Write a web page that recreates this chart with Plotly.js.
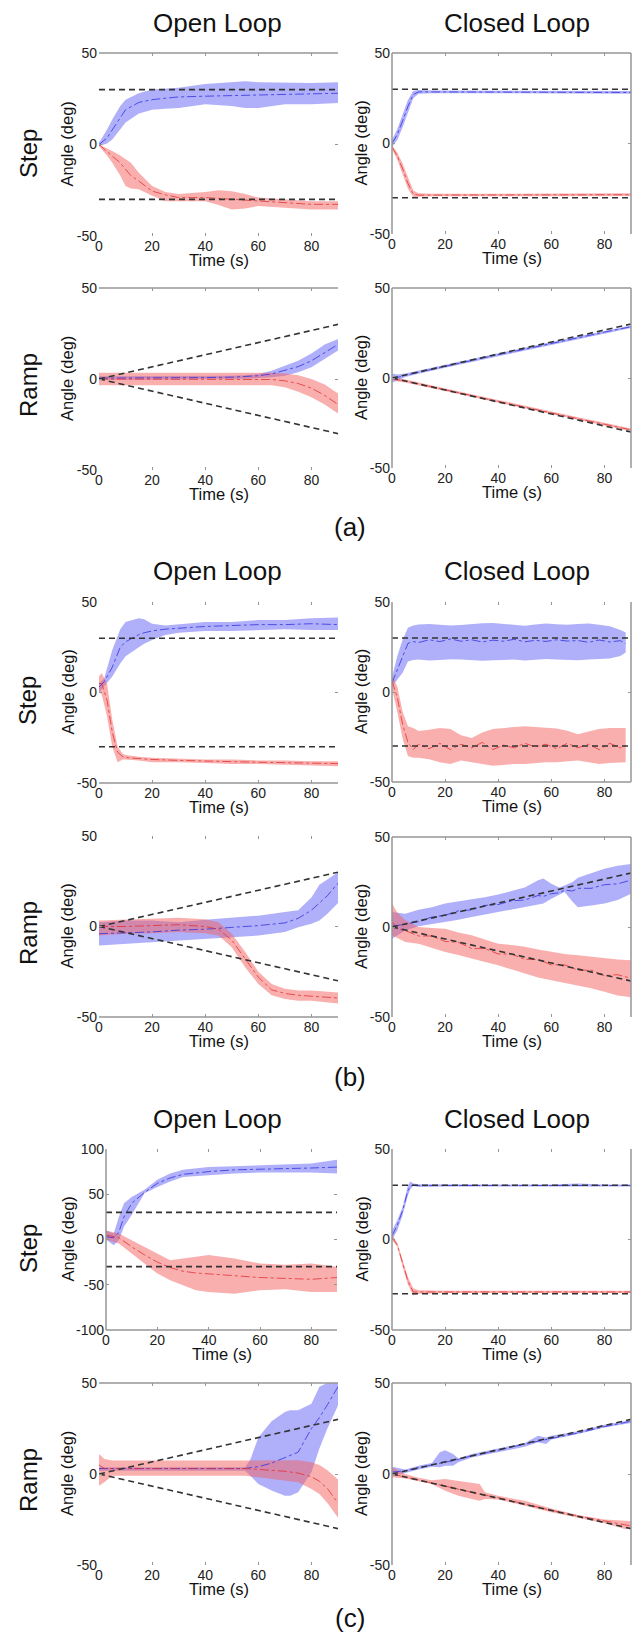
<!DOCTYPE html>
<html>
<head>
<meta charset="utf-8">
<script src="https://cdn.plot.ly/plotly-3.0.1.min.js"></script>
<style>html,body{margin:0;padding:0;background:#fff;}#chart{width:636px;height:1643px;}</style>
</head>
<body>
<div id="chart"></div>
<script>
// ---------------- DATA ----------------
const xTicks = [0, 20, 40, 60, 80];
const yTicks = [-50, 0, 50];
const yTickText = ['-50', '0', '50'];
const yTicksWide = [-100, -50, 0, 50, 100];
const yTickTextWide = ['-100', '-50', '0', '50', '100'];
const refT = [0, 90];
const stepUp = [30, 30];
const stepDn = [-30, -30];
const rampUp = [0, 30];
const rampDn = [0, -30];

// (a) Open loop, step
const a1_bT = [0, 3, 5, 8, 10, 15, 20, 25, 30, 40, 50, 55, 60, 70, 80, 90];
const a1_bHi = [1, 8, 13.6, 21, 24.5, 28, 30, 30.5, 31, 33, 34, 34.5, 34, 33.6, 33.6, 34];
const a1_bLo = [-1, 0.5, 2.7, 8, 12, 17, 19, 19.5, 20, 22, 21, 20, 20, 22, 22, 22.7];
const a1_bM = [0, 3.5, 8, 15, 19, 23, 24.5, 25.3, 26, 26.4, 26.7, 27, 27, 27.6, 28, 28];
const a1_rT = [0, 3, 5, 8, 10, 12, 15, 20, 25, 30, 40, 45, 50, 55, 60, 70, 80, 90];
const a1_rHi = [0, -2, -3.6, -6, -8, -10, -15.5, -22.7, -26, -27, -26, -25, -25.5, -27, -29, -30, -31, -31];
const a1_rLo = [-1, -6, -10, -17, -22.7, -24, -24.5, -28, -31, -31, -31, -33, -35.5, -35, -33.6, -34.5, -35.5, -35.5];
const a1_rM = [0, -4, -6.4, -10, -13.6, -17, -20, -25.5, -27.5, -29, -29, -29.5, -30, -30.5, -31, -32, -32.7, -32.7];

// (a) Closed loop, step
const a2_T = [0, 2, 4, 6, 8, 10, 15, 30, 50, 70, 90];
const a2_bHi = [2, 8, 16, 24, 29, 29.5, 29.3, 29.2, 29.2, 29, 29];
const a2_bLo = [-2, 2, 9, 17, 25, 27.5, 27.8, 27.8, 27.8, 27.7, 27.5];
const a2_bM = [0, 5, 12.5, 20.5, 27, 28.5, 28.5, 28.5, 28.5, 28.3, 28.2];
const a2_rHi = [-1, -5, -11, -19, -26, -27.5, -27.8, -27.8, -27.8, -27.7, -27.5];
const a2_rLo = [-3, -9, -17, -25, -29.5, -29.3, -29.2, -29.2, -29.2, -29.2, -29];
const a2_rM = [-2, -7, -14, -22, -28, -28.5, -28.5, -28.5, -28.5, -28.4, -28.3];

// (a) Open loop, ramp
const a3_bT = [0, 10, 20, 30, 40, 50, 55, 60, 65, 70, 75, 80, 85, 90];
const a3_bHi = [1.5, 1.5, 1.5, 1.5, 1.5, 1.8, 2, 2.8, 4.6, 7.4, 10, 14, 19, 22];
const a3_bLo = [-0.5, -0.5, -0.3, -0.3, 0, 0, 0.2, 0.5, 0.9, 1.8, 3.7, 6.4, 11, 15.6];
const a3_bM = [0.5, 0.5, 0.6, 0.6, 0.8, 1, 1.2, 1.8, 2.8, 4.6, 6.8, 10, 14.5, 19];
const a3_rT = [0, 10, 20, 30, 40, 50, 60, 65, 70, 75, 80, 85, 90];
const a3_rHi = [3.5, 3.5, 3.3, 3.3, 3.3, 3.3, 3.5, 3.5, 3, 2, 0, -3, -8];
const a3_rLo = [-3.5, -3.5, -3.5, -3.3, -3.3, -3.3, -3.3, -3.5, -4.5, -7, -10, -14, -19];
const a3_rM = [0, 0, 0, 0, 0, 0, 0, -0.3, -1, -2.5, -5, -9, -14];

// (a) Closed loop, ramp
const a4_T = [0, 2, 5, 10, 20, 30, 40, 50, 60, 70, 80, 90];
const a4_bHi = [2.5, 2, 2.5, 4, 7.3, 10.5, 13.8, 16.8, 20, 23, 26.2, 29.2];
const a4_bLo = [-2.5, -1.5, 0.5, 2.4, 5.7, 8.9, 12.2, 15.2, 18.5, 21.5, 24.7, 27.8];
const a4_bM = [0, 0.3, 1.5, 3.2, 6.5, 9.7, 13, 16, 19.3, 22.3, 25.5, 28.5];
const a4_rHi = [1, 0, -0.8, -2.5, -5.8, -9, -12.2, -15.5, -18.7, -21.8, -24.9, -28];
const a4_rLo = [-1, -2, -2.5, -4.1, -7.4, -10.6, -13.8, -17.1, -20.3, -23.4, -26.5, -29.6];
const a4_rM = [0, -1, -1.6, -3.3, -6.6, -9.8, -13, -16.3, -19.5, -22.6, -25.7, -28.8];

// (b) Open loop, step
const b1_bT = [0, 2, 5, 8, 10, 15, 17, 20, 25, 30, 40, 50, 60, 70, 80, 90];
const b1_bHi = [5, 8, 23.5, 35, 39, 41, 40.5, 38, 37, 37.6, 39, 39, 40, 40, 41, 41.5];
const b1_bLo = [0, 3.3, 8.8, 16, 20, 25, 27, 29, 31.7, 33, 34, 34, 34.5, 35, 34.5, 34.5];
const b1_bM = [3, 6, 14, 25, 28, 32, 33, 34, 35, 35.5, 36.5, 37, 37.5, 37.5, 38, 37.5];
const b1_rT = [0, 1, 3, 5, 7, 9, 10, 15, 20, 30, 40, 50, 60, 70, 80, 90];
const b1_rHi = [9, 10.6, 5, -15, -30, -34, -34.5, -35.5, -36, -36.5, -37, -37, -37.5, -37.5, -38, -38];
const b1_rLo = [0, -1, -13, -30, -38.5, -37, -37, -37.5, -38.5, -38.5, -39, -39.5, -39.5, -40, -40.5, -40.7];
const b1_rM = [5, 5, -4, -22, -33, -35.5, -36, -36.5, -37, -37.5, -38, -38.2, -38.5, -38.7, -39, -39.3];

// (b) Closed loop, step
const b2_T = [0, 2, 4, 6, 8, 10, 14, 18, 22, 26, 30, 34, 38, 42, 46, 50, 54, 58, 62, 66, 70, 74, 78, 82, 86, 88];
const b2_bHi = [8, 20, 29, 35.7, 37, 37.5, 37.8, 37.5, 37, 37.2, 37.8, 38.2, 38.4, 38, 37.5, 36.8, 37.5, 38, 37.6, 37.3, 37.8, 38, 37.4, 36.5, 34.5, 33];
const b2_bLo = [3, 7, 10.7, 17, 17.8, 18, 17.5, 17.8, 18.2, 18, 17.6, 17.4, 17.6, 17.8, 18, 17.5, 17.8, 18.3, 18.1, 17.7, 17.6, 18, 18.4, 18.6, 20, 22];
const b2_bM = [5, 12, 20, 27, 28, 27.5, 29, 28, 29.5, 28.2, 29, 27.8, 28.8, 28.2, 29.3, 27.9, 28.7, 28.1, 29, 28.3, 28.6, 27.6, 28.9, 27.8, 28.5, 27];
const b2_rHi = [9, 3, -11, -19, -20, -21.7, -21, -20, -20.5, -24, -25.5, -22.5, -20.5, -20, -19.7, -19, -19.5, -20, -20.3, -21.5, -23.5, -22, -20.5, -20, -19.8, -20];
const b2_rLo = [2, -11, -26, -35.5, -36.5, -36.5, -37.4, -39, -40, -38, -39, -40, -41, -40.5, -40, -40, -39.5, -39, -39, -38.5, -38, -39, -40, -39.5, -39, -39];
const b2_rM = [6, -3, -18, -28, -32, -29, -31.5, -28.5, -32, -29, -31, -28, -32, -29.5, -31, -28.5, -30.5, -29, -31.5, -28.5, -31, -29, -32, -28.5, -31, -30];

// (b) Open loop, ramp
const b3_bT = [0, 10, 20, 30, 40, 50, 60, 70, 75, 80, 83, 86, 90];
const b3_bHi = [2.4, 3.3, 3.3, 2.4, 3.7, 5, 6, 8, 9, 16, 23, 26, 30];
const b3_bLo = [-10.5, -9.6, -8.7, -7.7, -6.8, -6, -5, -3, -0.4, 1.5, 3.3, 7, 13];
const b3_bM = [-4, -3.5, -3, -2, -1.5, -0.5, 0.5, 2, 4.5, 9, 13, 17, 24];
const b3_rT = [0, 10, 20, 30, 40, 45, 50, 55, 60, 65, 70, 75, 80, 85, 90];
const b3_rHi = [3.3, 3.7, 4.2, 4.8, 4, 2.4, -4, -14, -25, -31.7, -34.4, -35.4, -35.4, -36, -36.5];
const b3_rLo = [-5, -4, -3.7, -3.1, -3.7, -5, -11.4, -22.5, -31.7, -38, -40, -41, -41, -42, -42.6];
const b3_rM = [0, 0, 0.5, 1, 0, -1.5, -7.5, -18, -28, -35, -37, -38, -38.5, -39, -39.5];

// (b) Closed loop, ramp
const b4_bT = [0, 5, 10, 15, 20, 25, 30, 35, 40, 45, 50, 55, 57, 60, 63, 65, 68, 70, 75, 80, 85, 90];
const b4_bHi = [8.3, 7.4, 9.6, 11, 13, 14, 15.4, 16.5, 18, 20, 22, 26, 27, 24, 22, 23, 25, 27.4, 30, 32.4, 34, 35];
const b4_bLo = [-6.5, -1.9, 0.4, 1.5, 2.8, 4, 5.6, 7, 8.3, 9.5, 11, 12.5, 13, 15.7, 18, 19.4, 14, 11, 12, 13, 15, 18.5];
const b4_bM = [0.5, 1.5, 3, 5.5, 6.5, 9, 9.5, 12, 12.5, 14.5, 15, 17.5, 17, 18.5, 19, 20.5, 20, 21.5, 21.5, 23.5, 24, 26];
const b4_rT = [0, 2, 5, 10, 15, 20, 25, 30, 35, 40, 45, 50, 55, 60, 65, 70, 75, 80, 85, 90];
const b4_rHi = [13, 8, 3.7, 0, -0.5, -1, -3, -4.6, -7, -9.3, -10, -11, -12.5, -13.9, -15, -15.7, -16.5, -17.6, -18, -18.5];
const b4_rLo = [-4.6, -6, -8.3, -9.3, -11.5, -13.9, -15.5, -17.6, -19.5, -21.3, -23.5, -26, -28, -29.6, -31, -32.4, -34, -36, -38, -39];
const b4_rM = [3, -1, -2, -5, -5, -8, -8.5, -12, -12, -15, -15, -18, -18, -21, -21, -24, -24, -27, -26.5, -28.5];

// (c) Open loop, step
const c1_bT = [0, 3, 5, 7, 10, 15, 20, 25, 30, 40, 50, 60, 70, 80, 90];
const c1_bHi = [10, 6.6, 25, 40, 47, 55, 66, 73, 77, 80, 81, 82, 83, 84, 88];
const c1_bLo = [0, -6.3, -0.7, 14, 27, 51, 58, 64, 69, 71, 73, 74, 74, 74, 73];
const c1_bM = [3, 2, 8, 25, 40, 52, 62, 68, 72, 75, 77, 77.5, 78, 79, 80];
const c1_rT = [0, 5, 10, 15, 20, 25, 30, 35, 40, 50, 60, 70, 80, 90];
const c1_rHi = [10, 6.6, -0.7, -8, -15.5, -23, -21, -19, -17, -21, -26.5, -28, -26.5, -30];
const c1_rLo = [0, -4.4, -15.5, -26.5, -37.6, -45, -50.5, -56, -58, -60, -56, -55, -58, -58];
const c1_rM = [5, 2, -8, -17, -25, -31, -35, -37, -38, -40, -42, -43, -44, -42];

// (c) Closed loop, step
const c2_bT = [0, 2, 4, 6, 7, 8, 10, 20, 40, 60, 70, 80, 90];
const c2_bHi = [5, 10.7, 18, 30, 32, 31, 30.5, 30.5, 30.4, 30.4, 31, 30.4, 30.4];
const c2_bLo = [0, 5, 13.5, 24.5, 28, 29.5, 29, 29.3, 29.3, 29.3, 29.3, 29.3, 29.3];
const c2_bM = [2, 8, 16, 27, 29.5, 30, 29.8, 29.8, 29.8, 29.8, 30, 29.8, 29.8];
const c2_rT = [0, 2, 4, 6, 8, 10, 20, 40, 60, 80, 90];
const c2_rHi = [3, -2, -11.5, -20.7, -27, -28, -28.3, -28.4, -28.4, -28.3, -28.3];
const c2_rLo = [0, -4, -15, -25, -31, -30, -29.6, -29.6, -29.6, -29.6, -29.6];
const c2_rM = [1, -3, -13, -23, -29, -29, -29, -29, -29, -29, -29];

// (c) Open loop, ramp
const c3_bT = [0, 10, 20, 30, 40, 50, 55, 57, 60, 65, 70, 72, 75, 80, 83, 86, 90];
const c3_bHi = [3.7, 3.7, 3.7, 3.7, 3.7, 3.7, 3.7, 8, 20, 29, 34, 35, 35, 38.6, 48, 50, 51];
const c3_bLo = [1.8, 1.8, 1.8, 1.8, 1.8, 1.8, 1.8, -1, -5.5, -9, -12, -12, -10, 1, 14, 25, 37.7];
const c3_bM = [3, 3, 3, 3, 3, 3, 3, 3.5, 4, 6, 9, 10, 12, 25, 31, 38, 48];
const c3_rT = [0, 2, 5, 10, 20, 30, 40, 50, 55, 60, 65, 70, 75, 80, 83, 86, 90];
const c3_rHi = [11, 8.3, 7.4, 7.4, 7.4, 7.4, 7.4, 7.4, 7.4, 7.4, 7.7, 7.7, 7.5, 6.4, 5, 2, -3];
const c3_rLo = [-6.4, -4.6, -1, -0.9, -0.9, -0.9, -0.9, -0.9, -1, -1.8, -2.8, -3.7, -4.6, -8.3, -11, -16, -24];
const c3_rM = [5, 3, 3, 3, 3, 3, 3, 3, 3, 2.5, 2, 1.5, 0.5, -1.5, -4, -8, -16];

// (c) Closed loop, ramp
const c4_bT = [0, 5, 10, 15, 18, 20, 23, 25, 30, 40, 50, 55, 58, 60, 70, 80, 90];
const c4_bHi = [4, 2.5, 4.5, 6, 12, 13, 11, 8.5, 11, 14, 17, 21, 20, 21, 23.5, 27, 29.5];
const c4_bLo = [-1, 0.5, 2.5, 4, 3.7, 4.6, 4.6, 6.5, 9, 12, 15, 17.5, 16.5, 19, 22, 25.5, 28];
const c4_bM = [1, 1.8, 3.5, 5, 5.8, 6.5, 7.3, 8, 10, 13, 16.5, 18, 19, 19.5, 22.5, 26, 29];
const c4_rT = [0, 5, 10, 15, 20, 25, 30, 33, 35, 40, 50, 60, 70, 80, 88, 90];
const c4_rHi = [3.7, 0, -2, -3.5, -2.8, -3.7, -4.6, -5.5, -10, -12, -14.7, -19, -22.5, -25, -25.7, -26];
const c4_rLo = [-1.8, -2.5, -4, -5.5, -9.2, -12, -13.8, -14.7, -13.8, -14, -17.5, -21, -24, -27, -30.3, -30];
const c4_rM = [0, -1.6, -3.3, -5, -6.5, -8.2, -10, -11, -11.6, -13, -16.5, -20, -23, -26, -28, -28.5];

// ---------------- LAYOUT / BUILD ----------------
const W = 636, H = 1643;
const FONT = 'Liberation Sans, Arial, Helvetica, sans-serif';
const BLUE_FILL = 'rgba(95,95,245,0.5)';
const RED_FILL = 'rgba(245,95,95,0.5)';
const BLUE_LINE = 'rgb(50,50,225)';
const RED_LINE = 'rgb(225,50,50)';
const SPINE = 'rgb(150,150,150)';

// panel geometry in pixels: [left, right, top, bottom]
const panels = [
  {px:[99,338,53,236],  kind:'step', spines:'t',   b:[a1_bT,a1_bLo,a1_bHi,a1_bM], r:[a1_rT,a1_rLo,a1_rHi,a1_rM], yl:67},
  {px:[392,631,53,234], kind:'step', spines:'ltr', b:[a2_T,a2_bLo,a2_bHi,a2_bM], r:[a2_T,a2_rLo,a2_rHi,a2_rM], yl:361},
  {px:[99,338,288,470], kind:'ramp', spines:'t',   b:[a3_bT,a3_bLo,a3_bHi,a3_bM], r:[a3_rT,a3_rLo,a3_rHi,a3_rM], yl:67},
  {px:[392,631,288,468],kind:'ramp', spines:'ltr', b:[a4_T,a4_bLo,a4_bHi,a4_bM], r:[a4_T,a4_rLo,a4_rHi,a4_rM], yl:361},
  {px:[99,338,602,783], kind:'step', spines:'b',   b:[b1_bT,b1_bLo,b1_bHi,b1_bM], r:[b1_rT,b1_rLo,b1_rHi,b1_rM], yl:67},
  {px:[392,631,602,782],kind:'step', spines:'lbr', b:[b2_T,b2_bLo,b2_bHi,b2_bM], r:[b2_T,b2_rLo,b2_rHi,b2_rM], yl:361},
  {px:[99,338,836,1017],kind:'ramp', spines:'b',   b:[b3_bT,b3_bLo,b3_bHi,b3_bM], r:[b3_rT,b3_rLo,b3_rHi,b3_rM], yl:67},
  {px:[392,631,837,1017],kind:'ramp',spines:'ltr', b:[b4_bT,b4_bLo,b4_bHi,b4_bM], r:[b4_rT,b4_rLo,b4_rHi,b4_rM], yl:361},
  {px:[106,337,1149,1330],kind:'step',spines:'lb', b:[c1_bT,c1_bLo,c1_bHi,c1_bM], r:[c1_rT,c1_rLo,c1_rHi,c1_rM], yl:67, wide:true},
  {px:[392,631,1149,1330],kind:'step',spines:'lbr',b:[c2_bT,c2_bLo,c2_bHi,c2_bM], r:[c2_rT,c2_rLo,c2_rHi,c2_rM], yl:361},
  {px:[99,338,1383,1565],kind:'ramp',spines:'t',   b:[c3_bT,c3_bLo,c3_bHi,c3_bM], r:[c3_rT,c3_rLo,c3_rHi,c3_rM], yl:67},
  {px:[392,631,1383,1565],kind:'ramp',spines:'ltr',b:[c4_bT,c4_bLo,c4_bHi,c4_bM], r:[c4_rT,c4_rLo,c4_rHi,c4_rM], yl:361}
];

const traces = [];
const layout = {
  width: W, height: H,
  margin: {l:0, r:0, t:0, b:0},
  paper_bgcolor: '#fff', plot_bgcolor: 'rgba(0,0,0,0)',
  showlegend: false,
  font: {family: FONT, color: '#111'},
  shapes: [], annotations: []
};

function band(xa, ya, t, lo, hi, fill) {
  traces.push({x:t, y:lo, xaxis:xa, yaxis:ya, mode:'lines', line:{width:0, color:fill}, hoverinfo:'skip'});
  traces.push({x:t, y:hi, xaxis:xa, yaxis:ya, mode:'lines', line:{width:0, color:fill}, fill:'tonexty', fillcolor:fill, hoverinfo:'skip'});
}

panels.forEach((p, i) => {
  const n = i + 1;
  const xa = 'x' + (n === 1 ? '' : n), ya = 'y' + (n === 1 ? '' : n);
  const xk = 'xaxis' + (n === 1 ? '' : n), yk = 'yaxis' + (n === 1 ? '' : n);
  const [l, r, t, b] = p.px;
  layout[xk] = {
    domain: [l / W, r / W], anchor: ya, range: [0, 90], tickvals: xTicks,
    ticks: 'inside', ticklen: 3, tickcolor: SPINE, mirror: 'ticks', showline: false,
    showgrid: false, zeroline: false, tickfont: {size: 14, family: FONT, color: '#222'},
    ticklabelstandoff: 0, fixedrange: true
  };
  layout[yk] = {
    domain: [1 - b / H, 1 - t / H], anchor: xa, range: p.wide ? [-100, 100] : [-50, 50],
    tickvals: p.wide ? yTicksWide : yTicks, ticktext: p.wide ? yTickTextWide : yTickText,
    ticks: 'inside', ticklen: 3, tickcolor: SPINE, mirror: 'ticks', showline: false,
    showgrid: false, zeroline: false, tickfont: {size: 14, family: FONT, color: '#222'},
    ticklabelstandoff: 1, fixedrange: true
  };
  band(xa, ya, p.b[0], p.b[1], p.b[2], BLUE_FILL);
  band(xa, ya, p.r[0], p.r[1], p.r[2], RED_FILL);
  traces.push({x:p.b[0], y:p.b[3], xaxis:xa, yaxis:ya, mode:'lines', line:{width:0.8, color:BLUE_LINE, dash:'dashdot'}});
  traces.push({x:p.r[0], y:p.r[3], xaxis:xa, yaxis:ya, mode:'lines', line:{width:0.8, color:RED_LINE, dash:'dashdot'}});
  const up = p.kind === 'step' ? stepUp : rampUp;
  const dn = p.kind === 'step' ? stepDn : rampDn;
  [up, dn].forEach(yy => traces.push({x:refT, y:yy, xaxis:xa, yaxis:ya, mode:'lines', line:{width:1.6, color:'#333', dash:'6px,4px'}}));

  const xr = xa + ' domain', yr = ya + ' domain';
  const sp = {t:[0,1,1,1], b:[0,0,1,0], l:[0,0,0,1], r:[1,0,1,1]};
  p.spines.split('').forEach(s => {
    const c = sp[s];
    layout.shapes.push({type:'line', xref:xr, yref:yr, x0:c[0], y0:c[1], x1:c[2], y1:c[3], line:{color:SPINE, width:1.5}});
  });
  layout.annotations.push({text:'Angle (deg)', xref:'paper', yref:yr, x:p.yl / W, y:0.5, xanchor:'center', yanchor:'middle', textangle:-90, showarrow:false, font:{size:16.5, family:FONT, color:'#111'}});
  layout.annotations.push({text:'Time (s)', xref:xr, yref:yr, x:0.5, y:0, yshift:-24, xanchor:'center', yanchor:'middle', showarrow:false, font:{size:16.5, family:FONT, color:'#111'}});
});

const titleRows = [23, 571, 1119];
const groupLabels = [['(a)', 527], ['(b)', 1077], ['(c)', 1618]];
const rowLabels = [['Step', 153], ['Ramp', 385], ['Step', 700], ['Ramp', 933], ['Step', 1248], ['Ramp', 1480]];
titleRows.forEach(y => {
  layout.annotations.push({text:'Open Loop', xref:'paper', yref:'paper', x:217 / W, y:1 - y / H, xanchor:'center', yanchor:'middle', showarrow:false, font:{size:26, family:FONT, color:'#111'}});
  layout.annotations.push({text:'Closed Loop', xref:'paper', yref:'paper', x:517 / W, y:1 - y / H, xanchor:'center', yanchor:'middle', showarrow:false, font:{size:26, family:FONT, color:'#111'}});
});
rowLabels.forEach(([s, y]) => {
  layout.annotations.push({text:s, xref:'paper', yref:'paper', x:28 / W, y:1 - y / H, xanchor:'center', yanchor:'middle', textangle:-90, showarrow:false, font:{size:24, family:FONT, color:'#111'}});
});
groupLabels.forEach(([s, y]) => {
  layout.annotations.push({text:s, xref:'paper', yref:'paper', x:350 / W, y:1 - y / H, xanchor:'center', yanchor:'middle', showarrow:false, font:{size:26, family:FONT, color:'#111'}});
});

traces.forEach(tr => { tr.showlegend = false; });
Plotly.newPlot('chart', traces, layout, {staticPlot: true, displayModeBar: false});
</script>
</body>
</html>
